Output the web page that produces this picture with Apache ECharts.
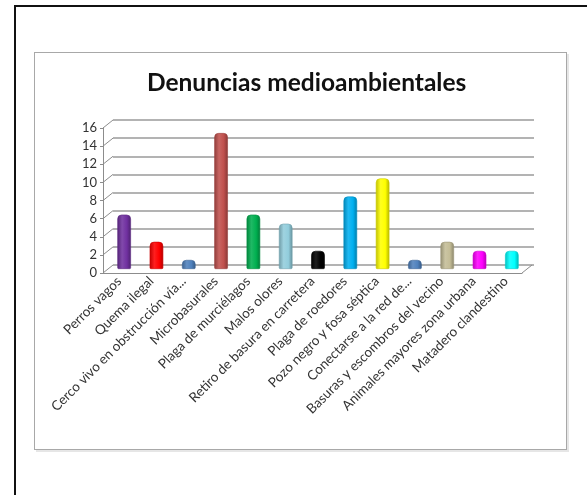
<!DOCTYPE html>
<html>
<head>
<meta charset="utf-8">
<script src="https://cdn.jsdelivr.net/npm/echarts@6/dist/echarts.min.js"></script>
<style>
  html, body { margin: 0; padding: 0; background: #fff; }
  #wrap { position: relative; width: 587px; height: 495px; overflow: hidden; }
  #outer { position: absolute; left: 14px; top: 5px; width: 600px; height: 520px;
           border-left: 2px solid #111; border-top: 2px solid #111; }
  #frame { position: absolute; left: 34px; top: 52px; width: 531px; height: 396px;
           border: 1.5px solid #a8a8a8; box-shadow: 2px 2px 0 #e6e6e6; }
  #chart { position: absolute; left: 0; top: 0; width: 587px; height: 495px; }
</style>
</head>
<body>
<div id="wrap">
  <div id="outer"></div>
  <div id="frame"></div>
  <div id="chart"></div>
</div>
<script>
const categories = [
  "Perros vagos",
  "Quema ilegal",
  "Cerco vivo en obstrucción vía...",
  "Microbasurales",
  "Plaga de murciélagos",
  "Malos olores",
  "Retiro de basura en carretera",
  "Plaga de roedores",
  "Pozo negro y fosa séptica",
  "Conectarse a la red de...",
  "Basuras y escombros del vecino",
  "Animales mayores zona urbana",
  "Matadero clandestino"
];
const values = [6, 3, 1, 15, 6, 5, 2, 8, 10, 1, 3, 2, 2];
const barColors = [
  "#7030A0", "#FF0000", "#4F81BD", "#C0504D", "#00B050", "#92CDDC", "#000000",
  "#00B0F0", "#FFFF00", "#4F81BD", "#C4BD97", "#FF00FF", "#00FFFF"
];
const yTicks = [0, 2, 4, 6, 8, 10, 12, 14, 16];
const titleText = "Denuncias medioambientales";

function shade(hex, f) {
  const n = parseInt(hex.slice(1), 16);
  let r = (n >> 16) & 255, g = (n >> 8) & 255, b = n & 255;
  if (f < 0) { r = Math.round(r * (1 + f)); g = Math.round(g * (1 + f)); b = Math.round(b * (1 + f)); }
  else { r = Math.round(r + (255 - r) * f); g = Math.round(g + (255 - g) * f); b = Math.round(b + (255 - b) * f); }
  return "rgb(" + r + "," + g + "," + b + ")";
}
function cyl(hex) {
  return new echarts.graphic.LinearGradient(0, 0, 1, 0, [
    { offset: 0, color: shade(hex, -0.25) },
    { offset: 0.35, color: shade(hex, 0.12) },
    { offset: 0.7, color: hex },
    { offset: 1, color: shade(hex, -0.3) }
  ]);
}

const DX = 10, DY = -8;
const font = "Lato, 'Open Sans', sans-serif";

const diagData = yTicks.map(v => [0, v, -1]).concat([[categories.length - 1, 0, 1]]);

const chart = echarts.init(document.getElementById('chart'));
chart.setOption({
  animation: false,
  title: {
    text: titleText, left: 142, top: 66,
    textStyle: { fontFamily: font, fontSize: 24.5, fontWeight: 'bold', color: '#111' }
  },
  grid: [
    { left: 103, right: 65, top: 128, bottom: 222 },
    { left: 113, right: 53, top: 120, bottom: 230 },
    { left: 108, right: 59, top: 124, bottom: 226 }
  ],
  xAxis: [
    { type: 'category', gridIndex: 0, data: categories,
      axisLine: { lineStyle: { color: '#8c8c8c', width: 1 } },
      axisTick: { lineStyle: { color: '#8c8c8c' }, length: 4 },
      axisLabel: { rotate: 45, interval: 0, fontFamily: font, fontSize: 13.5, color: '#333', margin: 6 } },
    { type: 'category', gridIndex: 1, data: categories, show: false },
    { type: 'category', gridIndex: 2, data: categories, show: false }
  ],
  yAxis: [
    { type: 'value', gridIndex: 0, min: 0, max: 16, interval: 2,
      axisLine: { show: true, lineStyle: { color: '#8c8c8c' } },
      axisTick: { show: true, length: 3, lineStyle: { color: '#8c8c8c' } },
      splitLine: { show: false },
      axisLabel: { fontFamily: font, fontSize: 13, color: '#333', margin: 6 } },
    { type: 'value', gridIndex: 1, min: 0, max: 16, interval: 2,
      axisLine: { show: false }, axisTick: { show: false }, axisLabel: { show: false },
      splitLine: { show: true, lineStyle: { color: '#9a9a9a', width: 1.6 } } },
    { type: 'value', gridIndex: 2, min: 0, max: 16, show: false, splitLine: { show: false } }
  ],
  series: [
    { type: 'custom', xAxisIndex: 0, yAxisIndex: 0, data: diagData, silent: true, z: 1,
      renderItem: function (params, api) {
        const p = api.coord([api.value(0), api.value(1)]);
        const half = api.size([1, 0])[0] / 2;
        const x = p[0] + api.value(2) * half;
        return { type: 'line', shape: { x1: x, y1: p[1], x2: x + DX, y2: p[1] + DY },
                 style: { stroke: '#8c8c8c', lineWidth: 1 } };
      }
    },
    { type: 'bar', xAxisIndex: 2, yAxisIndex: 2, barWidth: '42%', z: 3,
      data: values.map((v, i) => ({ value: v,
        itemStyle: { color: cyl(barColors[i]), borderRadius: [4, 4, 1, 1],
                     borderColor: shade(barColors[i], -0.2), borderWidth: 0.6 } })) }
  ]
});
</script>
</body>
</html>
